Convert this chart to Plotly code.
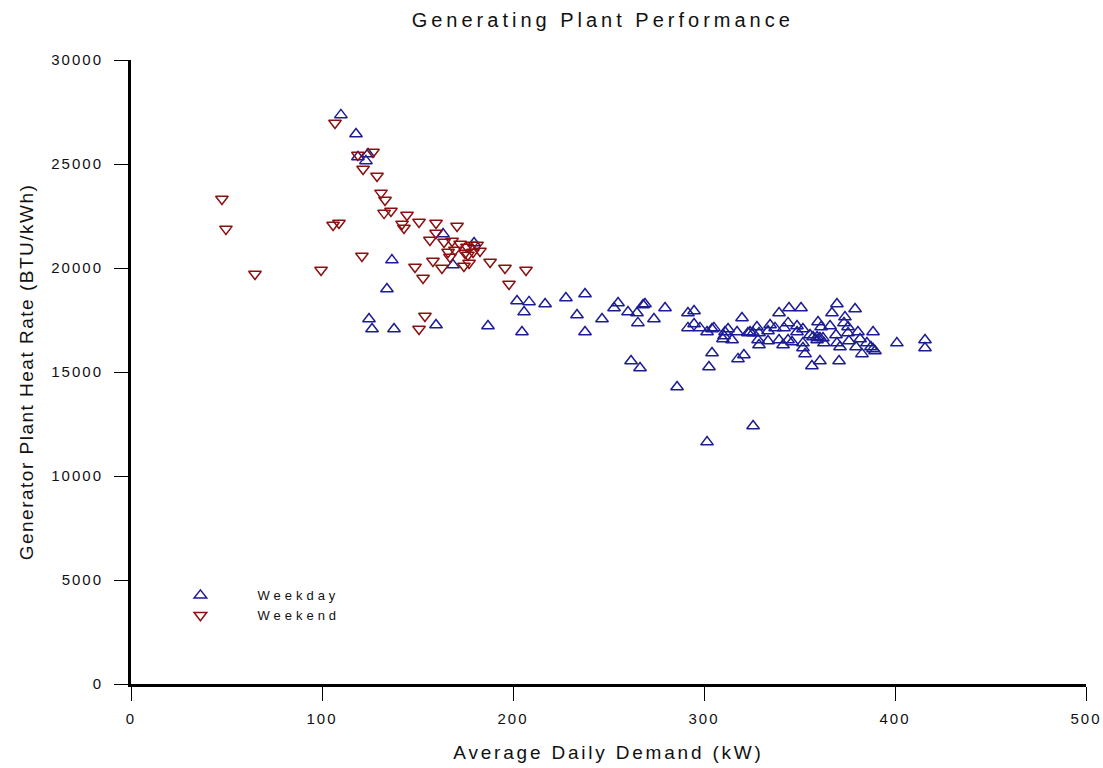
import plotly.graph_objects as go

# Weekday data: average daily demand (kW) and heat rate (BTU/kWh)
weekday_demand = [
    109.9, 117.8, 118.8, 124.1, 123.0, 136.6, 134.0, 124.6, 126.2, 137.7,
    159.7, 163.4, 179.6, 168.6, 186.9, 202.1, 208.4, 205.8, 216.8, 227.7,
    237.7, 233.5, 204.7, 237.7, 246.6, 252.9, 255.0, 260.2, 264.9, 268.1,
    269.1, 265.4, 273.8, 279.6, 261.8, 266.5, 285.9, 291.6, 294.8, 291.6,
    294.8, 297.9, 301.6, 304.2, 305.2, 304.2, 302.6, 317.8, 320.9, 311.0,
    312.6, 309.9, 314.7, 310.5, 317.3, 319.9, 323.0, 325.7, 327.7, 328.8,
    328.3, 328.8, 333.5, 334.6, 337.2, 339.3, 339.3, 325.7, 301.6, 324.1,
    333.5, 344.5, 350.8, 341.9, 344.0, 341.4, 344.0, 346.1, 348.7, 348.7,
    351.8, 351.8, 351.8, 352.9, 355.5, 357.1, 359.2, 360.7, 362.3, 359.2,
    359.7, 361.3, 366.0, 367.0, 369.6, 373.8, 373.3, 375.4, 375.4, 380.6,
    379.1, 369.1, 369.6, 371.2, 375.9, 379.6, 381.7, 382.7, 385.3, 387.4,
    388.5, 389.5, 388.5, 401.0, 415.7, 415.7, 360.7, 356.5, 370.7, 362.8,
]
weekday_heat_rate = [
    27360, 26440, 25340, 25480, 25150, 20380, 18990, 17550, 17070, 17070,
    17260, 21630, 21200, 20140, 17210, 18410, 18370, 17880, 18270, 18560,
    18750, 17740, 16920, 16920, 17550, 18080, 18320, 17880, 17840, 18220,
    18270, 17360, 17550, 18080, 15530, 15190, 14280, 17840, 17930, 17120,
    17310, 17120, 16920, 17070, 17120, 15910, 15240, 15630, 15820, 16920,
    17070, 16590, 16540, 16730, 16920, 17600, 16880, 16880, 17160, 16880,
    16540, 16300, 16490, 17260, 17120, 17840, 16540, 12400, 11630, 16920,
    16970, 18080, 18080, 17120, 17360, 16300, 16540, 16440, 17210, 16920,
    17070, 16390, 16150, 15870, 16780, 16680, 16680, 16630, 16630, 16540,
    17400, 17160, 17210, 17840, 18270, 17640, 17360, 17160, 16880, 16920,
    18030, 16780, 16390, 16200, 16490, 16200, 16590, 15870, 16390, 16200,
    16110, 16010, 16920, 16390, 16540, 16150, 15530, 15290, 15530, 16390,
]

# Weekend data
weekend_demand = [
    47.6, 49.7, 64.9, 99.5, 106.8, 105.8, 108.9, 118.8, 120.9, 121.5,
    126.7, 128.8, 130.9, 133.0, 132.5, 136.1, 141.9, 142.9, 144.5, 150.8,
    148.7, 150.8, 152.9, 153.9, 159.7, 159.7, 156.5, 158.1, 163.9, 162.8,
    168.1, 170.7, 172.3, 175.9, 178.5, 181.2, 166.0, 167.0, 169.6, 174.9,
    176.4, 179.1, 182.7, 174.3, 177.0, 188.0, 195.8, 197.9, 206.8,
]
weekend_heat_rate = [
    23320, 21880, 19710, 19900, 26970, 22070, 22160, 25430, 20580, 24760,
    25580, 24420, 23610, 23270, 22640, 22740, 22120, 21920, 22550, 22210,
    20050, 17070, 19520, 17690, 22160, 21680, 21350, 20340, 21250, 20000,
    21300, 22020, 21150, 21010, 21110, 21110, 20770, 20530, 20870, 20720,
    20630, 20770, 20820, 20100, 20240, 20290, 20000, 19230, 19900,
]

x_ticks = [0, 100, 200, 300, 400, 500]
y_ticks = [0, 5000, 10000, 15000, 20000, 25000, 30000]

FONT = "Liberation Sans, Arial, sans-serif"
BLUE = "#1c1c96"
RED = "#8b1010"

fig = go.Figure()
fig.add_trace(go.Scatter(
    x=weekday_demand, y=weekday_heat_rate, mode="markers", name="Weekday",
    marker=dict(symbol="triangle-up-open", size=11, color=BLUE,
                line=dict(width=1.5, color=BLUE)),
))
fig.add_trace(go.Scatter(
    x=weekend_demand, y=weekend_heat_rate, mode="markers", name="Weekend",
    marker=dict(symbol="triangle-down-open", size=11, color=RED,
                line=dict(width=1.5, color=RED)),
))

fig.update_layout(
    width=1103, height=768,
    margin=dict(l=131, r=17, t=60, b=84),
    paper_bgcolor="white", plot_bgcolor="white",
    font=dict(family=FONT, size=15, color="#111111"),
    title=dict(text="Generating Plant Performance", xref="paper", x=0.494,
               xanchor="center", y=0.974, yanchor="middle",
               font=dict(size=20, family=FONT)),
    showlegend=True,
    legend=dict(x=0.013, y=0.166, xanchor="left", yanchor="top",
                bgcolor="rgba(0,0,0,0)", font=dict(size=13, family=FONT),
                itemwidth=104, tracegroupgap=0),
    xaxis=dict(
        range=[0, 500], tickvals=x_ticks, ticktext=[str(v) for v in x_ticks],
        showgrid=False, zeroline=False, showline=True, linecolor="black",
        linewidth=3, ticks="outside", ticklen=14, tickwidth=1, tickcolor="black",
        ticklabelstandoff=5, automargin=False,
        title=dict(text="Average Daily Demand (kW)", font=dict(size=19, family=FONT),
                   standoff=20),
    ),
    yaxis=dict(
        range=[0, 30000], tickvals=y_ticks, ticktext=[str(v) for v in y_ticks],
        showgrid=False, zeroline=False, showline=True, linecolor="black",
        linewidth=3, ticks="outside", ticklen=14, tickwidth=1, tickcolor="black",
        ticklabelstandoff=8, automargin=False,
        title=dict(text="Generator Plant Heat Rate (BTU/kWh)",
                   font=dict(size=19, family=FONT), standoff=23),
    ),
)

# The reference typesetting uses widely tracked letters; reproduce via CSS.
css = (
    "<style>"
    ".js-plotly-plot .gtitle{letter-spacing:4px}"
    ".js-plotly-plot .xtitle{letter-spacing:2.8px}"
    ".js-plotly-plot .ytitle{letter-spacing:1.5px}"
    ".js-plotly-plot .xtick text,.js-plotly-plot .ytick text{letter-spacing:2px}"
    ".js-plotly-plot .legendtext{letter-spacing:4px}"
    ".js-plotly-plot .legend .scrollbox{clip-path:none!important}"
    "</style>"
)
post = "document.head.insertAdjacentHTML('beforeend', %r);" % css

fig.write_html("out.html", post_script=post)
